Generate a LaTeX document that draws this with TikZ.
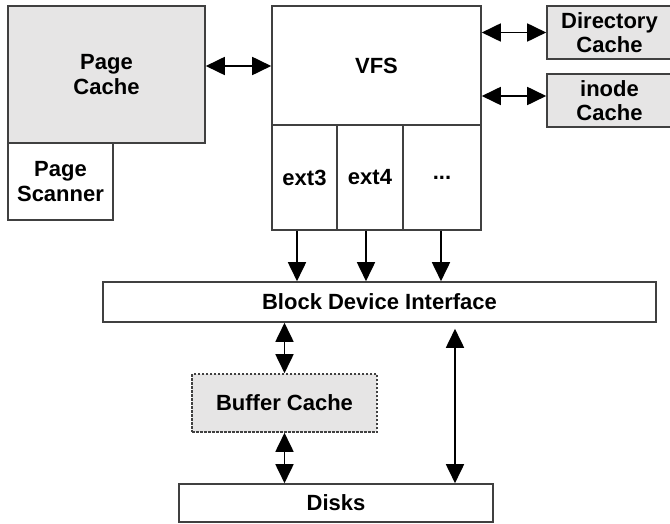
\documentclass[tikz,border=0pt]{standalone}
\usepackage{fontspec}
\setmainfont{Liberation Sans}
\usepackage{tikz}
\usetikzlibrary{arrows.meta,positioning}
\definecolor{boxgray}{RGB}{230,229,229}
\definecolor{linegray}{RGB}{64,64,64}

\begin{document}
\begin{tikzpicture}[x=1pt, y=-1pt,
    every node/.style={font=\fontsize{22}{24.5}\selectfont\bfseries, align=center, inner sep=0pt},
    block/.style={draw=linegray, line width=1.6pt, fill=white, rectangle},
    cache/.style={block, fill=boxgray},
    arr/.style={-{Triangle[length=19pt, width=18pt]}, line width=1.8pt},
    dbl/.style={{Triangle[length=19pt, width=18pt]}-{Triangle[length=19pt, width=18pt]}, line width=1.8pt}
]
    \useasboundingbox (0,0) rectangle (670,524);

    \node[cache, minimum width=197pt, minimum height=137pt] (pagecache) at (106.5,74.5) {Page\\Cache};
    \node[block, minimum width=105pt, minimum height=77pt] (scanner) at (60.5,181.5) {Page\\Scanner};

    \node[block, minimum width=209pt, minimum height=119pt] (vfs) at (376.5,65.5) {VFS};
    \node[block, minimum width=65pt, minimum height=105pt] (ext3) at (304.5,177.5) {ext3};
    \node[block, minimum width=66pt, minimum height=105pt] (ext4) at (370,177.5) {ext4};
    \node[block, minimum width=78pt, minimum height=105pt] (other) at (442,177.5) {...};

    \node[cache, minimum width=125pt, minimum height=53pt] (dircache) at (609.5,32.5) {Directory\\Cache};
    \node[cache, minimum width=125pt, minimum height=53pt] (inode) at (609.5,100.5) {inode\\Cache};

    \node[block, minimum width=553pt, minimum height=40pt] (bdi) at (379.5,302) {Block Device Interface};
    \node[cache, dash pattern=on 2.5pt off 1.5pt, minimum width=185pt, minimum height=58pt] (buffer) at (284.5,403) {Buffer Cache};
    \node[block, minimum width=314pt, minimum height=38pt] (disks) at (336,503) {Disks};

    \draw[dbl] (pagecache.east |- 0,66) -- (vfs.west |- 0,66);
    \draw[dbl] (dircache.west -| vfs.east) -- (dircache.west);
    \draw[dbl] (vfs.east |- 0,96) -- (inode.west |- 0,96);

    \draw[arr] ([xshift=-7.5pt]ext3.south) -- ([xshift=-7.5pt]ext3.south |- bdi.north);
    \draw[arr] ([xshift=-4pt]ext4.south) -- ([xshift=-4pt]ext4.south |- bdi.north);
    \draw[arr] ([xshift=-1pt]other.south) -- ([xshift=-1pt]other.south |- bdi.north);

    \draw[dbl] (bdi.south -| buffer) -- (buffer.north);
    \draw[dbl] (buffer.south) -- (disks.north -| buffer);
    \draw[dbl, shorten <=6pt] (bdi.south -| 455,0) -- (disks.north -| 455,0);
\end{tikzpicture}
\end{document}
